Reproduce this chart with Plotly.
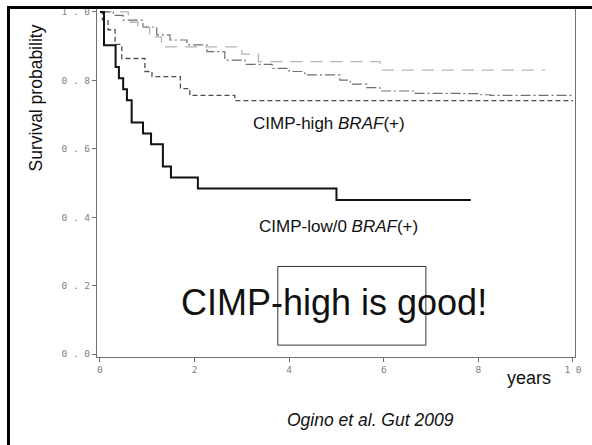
import plotly.graph_objects as go

# --- data (Kaplan-Meier step curves) ---
low_braf_pos_t = [0, 0.085, 0.33, 0.40, 0.49, 0.57, 0.67, 0.91, 1.08, 1.33, 1.50, 2.07, 5.0, 7.84]
low_braf_pos_s = [1.0, 0.903, 0.839, 0.806, 0.774, 0.742, 0.677, 0.645, 0.613, 0.548, 0.516, 0.484, 0.45, 0.45]

high_braf_pos_t = [0, 0.05, 0.17, 0.32, 0.46, 0.95, 1.10, 1.70, 1.90, 2.85, 10.0]
high_braf_pos_s = [1.0, 0.977, 0.948, 0.905, 0.864, 0.826, 0.811, 0.776, 0.756, 0.741, 0.741]

low_braf_neg_t = [0, 0.28, 0.49, 0.91, 1.20, 1.48, 1.84, 2.26, 2.64, 3.07, 3.64, 4.0, 4.33,
                  5.07, 5.29, 5.64, 5.92, 6.62, 7.61, 8.03, 8.25, 10.0]
low_braf_neg_s = [1.0, 0.99, 0.976, 0.956, 0.933, 0.918, 0.904, 0.884, 0.859, 0.847, 0.835, 0.826, 0.816,
                  0.801, 0.789, 0.779, 0.769, 0.762, 0.761, 0.758, 0.756, 0.756]

high_braf_neg_t = [0, 0.6, 0.8, 1.05, 1.3, 3.0, 3.35, 5.92, 9.41]
high_braf_neg_s = [1.0, 0.97, 0.955, 0.927, 0.898, 0.877, 0.855, 0.830, 0.830]

x_ticks = [0, 2, 4, 6, 8, 10]
x_tick_text = ["0", "2", "4", "6", "8", "1 0"]
y_ticks = [0.0, 0.2, 0.4, 0.6, 0.8, 1.0]
y_tick_text = ["0 . 0", "0 . 2", "0 . 4", "0 . 6", "0 . 8", "1 . 0"]

W, H = 592, 445
L, R, T, B = 97, 575, 6, 357  # plot area in pixels


def px(xp):
    return (xp - L) / (R - L)


def py(yp):
    return (B - yp) / (B - T)


fig = go.Figure()
fig.add_trace(go.Scatter(x=high_braf_neg_t, y=high_braf_neg_s, mode="lines", line_shape="hv",
                         line=dict(color="#b4b4b4", width=1.3, dash="12px,8px"), name="CIMP-high BRAF(-)"))
fig.add_trace(go.Scatter(x=low_braf_neg_t, y=low_braf_neg_s, mode="lines", line_shape="hv",
                         line=dict(color="#707070", width=1.2, dash="10px,3px,2px,3px"), name="CIMP-low/0 BRAF(-)"))
fig.add_trace(go.Scatter(x=high_braf_pos_t, y=high_braf_pos_s, mode="lines", line_shape="hv",
                         line=dict(color="#505050", width=1.3, dash="5px,3px"), name="CIMP-high BRAF(+)"))
fig.add_trace(go.Scatter(x=low_braf_pos_t, y=low_braf_pos_s, mode="lines", line_shape="hv",
                         line=dict(color="#111111", width=2), name="CIMP-low/0 BRAF(+)"))

axis_common = dict(showgrid=False, zeroline=False, showline=True, linecolor="#707070", linewidth=1,
                   ticks="outside", ticklen=4, tickcolor="#707070", tickwidth=1,
                   tickfont=dict(family="DejaVu Sans Mono", size=9.5, color="#808080"))

fig.update_xaxes(range=[-0.063, 10.043], tickvals=x_ticks, ticktext=x_tick_text, **axis_common)
fig.update_yaxes(range=[-0.0087, 1.0116], tickvals=y_ticks, ticktext=y_tick_text, mirror=True, **axis_common)

ann_font = dict(family="Liberation Sans, Arial", color="#111111")
annotations = [
    dict(text="Survival probability", x=px(36), y=py(97), textangle=-90, font=dict(size=17.5, **ann_font)),
    dict(text="CIMP-high <i>BRAF</i>(+)", x=px(329), y=py(122), font=dict(size=17, **ann_font)),
    dict(text="CIMP-low/0 <i>BRAF</i>(+)", x=px(338), y=py(226), font=dict(size=17, **ann_font)),
    dict(text="CIMP-high is good!", x=px(334), y=py(302), font=dict(size=36, **ann_font)),
    dict(text="years", x=px(529), y=py(378), font=dict(size=18, **ann_font)),
    dict(text="<i>Ogino et al. Gut 2009</i>", x=px(370), y=py(420), font=dict(size=17.5, **ann_font)),
]
for a in annotations:
    a.update(xref="paper", yref="paper", showarrow=False, xanchor="center", yanchor="middle")

shapes = [
    # emphasis box
    dict(type="rect", xref="x", yref="y", x0=3.76, x1=6.89, y0=0.026, y1=0.256,
         line=dict(color="#333333", width=1)),
    # slide frame: thick left and top border
    dict(type="line", xref="paper", yref="paper", x0=px(8.5), x1=px(8.5), y0=py(4), y1=py(446),
         line=dict(color="black", width=3)),
    dict(type="line", xref="paper", yref="paper", x0=px(7), x1=px(593), y0=py(5.5), y1=py(5.5),
         line=dict(color="black", width=3)),
]

fig.update_layout(width=W, height=H, margin=dict(l=L, r=W - R, t=T, b=H - B, pad=0),
                  paper_bgcolor="white", plot_bgcolor="white", showlegend=False,
                  annotations=annotations, shapes=shapes)

fig.write_html("out.html", config={"displayModeBar": False},
               post_script="document.body.style.margin='0';document.body.style.overflow='hidden';")
